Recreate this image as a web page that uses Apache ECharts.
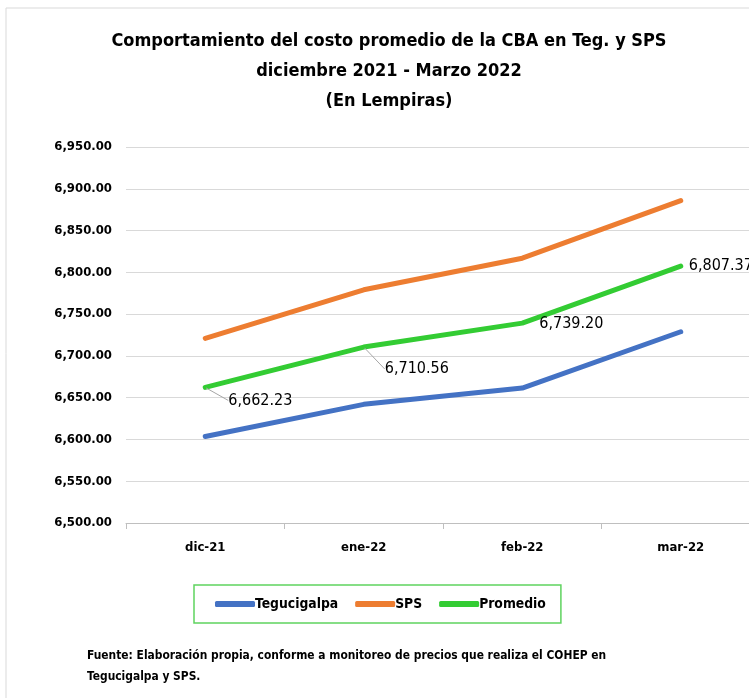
<!DOCTYPE html>
<html>
<head>
<meta charset="utf-8">
<script src="https://cdn.jsdelivr.net/npm/echarts@6/dist/echarts.min.js"></script>
<style>
html,body{margin:0;padding:0;background:#fff;}
#chart{width:749px;height:698px;}
</style>
</head>
<body>
<div id="chart"></div>
<script>
var categories = ['dic-21', 'ene-22', 'feb-22', 'mar-22'];
var tegucigalpa = [6603.5, 6642.0, 6661.5, 6728.9];
var sps = [6721.0, 6779.1, 6816.9, 6885.8];
var promedio = [6662.23, 6710.56, 6739.20, 6807.37];
var yTicks = [6500, 6550, 6600, 6650, 6700, 6750, 6800, 6850, 6900, 6950];
var seriesNames = ['Tegucigalpa', 'SPS', 'Promedio'];
var titleLines = ['Comportamiento del costo promedio de la CBA en Teg. y SPS', 'diciembre 2021 - Marzo 2022', '(En Lempiras)'];
var footLines = ['Fuente: Elaboración propia, conforme a monitoreo de precios que realiza el COHEP en', 'Tegucigalpa y SPS.'];

var FONT = '"Liberation Sans Narrow", "DejaVu Sans Condensed", "Liberation Sans", sans-serif';
function fmt(v){ return v.toLocaleString('en-US',{minimumFractionDigits:2, maximumFractionDigits:2}); }

var labelShift = [[18, 13], [16, 22], [12, 1], [3, 0]];
var labelGuide = [true, true, false, false];
var chart = echarts.init(document.getElementById('chart'), null, {renderer:'canvas'});
chart.setOption({
  animation: false,
  backgroundColor: '#fff',
  textStyle: {fontFamily: FONT},
  graphic: [{type:'rect', shape:{x:6, y:8, width:900, height:900}, style:{fill:'none', stroke:'#d9d9d9', lineWidth:1}, silent:true}],
  title: [{
    text: titleLines.join('\n'), left: 384, top: 21, textAlign: 'center',
    textStyle: {fontFamily: FONT, fontSize: 18, fontWeight: 'bold', color: '#000', lineHeight: 30}
  },{
    text: footLines.join('\n'), left: 87, top: 645, padding: 0,
    textStyle: {fontFamily: FONT, fontSize: 11.9, fontWeight: 'bold', color: '#000', lineHeight: 21}
  }],
  legend: {
    data: seriesNames, left: 194, top: 585, orient: 'horizontal',
    borderColor: '#5fd35f', borderWidth: 1.5, padding: [12, 15, 12, 21],
    itemWidth: 40, itemHeight: 6, itemGap: 17, icon: 'roundRect',
    textStyle: {fontFamily: FONT, fontSize: 13.8, fontWeight: 'bold', color: '#000', padding:[0,0,0,-5]}
  },
  grid: {left: 126, width: 634, top: 147, bottom: 175, containLabel: false, outerBoundsMode: 'none'},
  xAxis: {
    type: 'category', data: categories, boundaryGap: true,
    axisLine: {lineStyle: {color: '#bfbfbf', width: 1}},
    axisTick: {show: true, length: 6, lineStyle: {color: '#bfbfbf'}},
    axisLabel: {fontFamily: FONT, fontSize: 13, fontWeight: 'bold', color: '#000', margin: 18}
  },
  yAxis: {
    type: 'value', min: yTicks[0], max: yTicks[yTicks.length-1], interval: 50,
    axisLine: {show: false}, axisTick: {show: false},
    splitLine: {lineStyle: {color: '#d9d9d9', width: 1}},
    axisLabel: {fontFamily: FONT, fontSize: 13, fontWeight: 'bold', color: '#000', margin: 14, formatter: fmt}
  },
  series: [{
    name: seriesNames[0], type: 'line', data: tegucigalpa, showSymbol: false, symbol: 'none',
    lineStyle: {color: '#4472c4', width: 5, cap: 'round', join: 'round'}, itemStyle: {color: '#4472c4'}
  },{
    name: seriesNames[1], type: 'line', data: sps, showSymbol: false, symbol: 'none',
    lineStyle: {color: '#ed7d31', width: 5, cap: 'round', join: 'round'}, itemStyle: {color: '#ed7d31'}
  },{
    name: seriesNames[2], type: 'line', symbol: 'circle', symbolSize: 2, showSymbol: true,
    data: promedio.map(function(v, i){
      return {value: v, labelLine: {show: labelGuide[i]}};
    }),
    lineStyle: {color: '#33cc33', width: 5, cap: 'round', join: 'round'}, itemStyle: {color: '#33cc33'},
    label: {show: true, position: 'right', distance: 4, fontFamily: FONT, fontSize: 16, color: '#000', formatter: function(p){ return fmt(p.value); }},
    labelLine: {show: false, lineStyle: {color: '#a6a6a6', width: 1}},
    labelLayout: function(p){ var s = labelShift[p.dataIndex]; return {dx: s[0], dy: s[1]}; },
    z: 3
  }]
});
</script>
</body>
</html>
